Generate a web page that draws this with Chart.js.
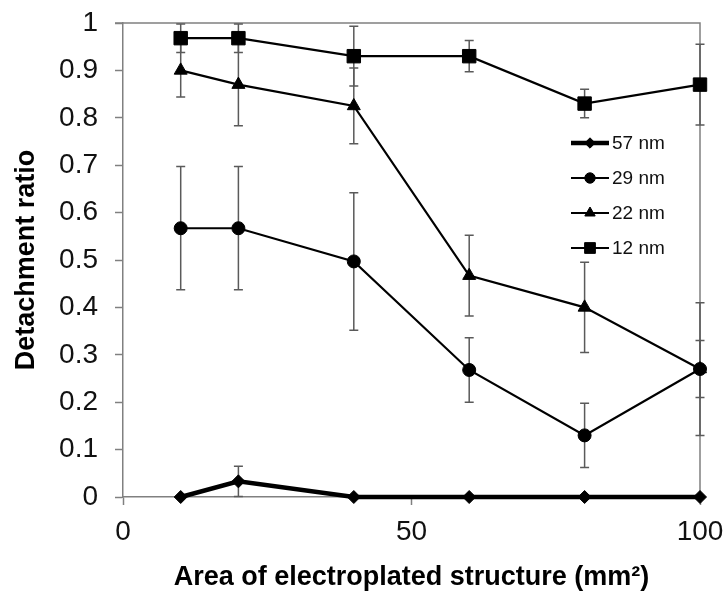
<!DOCTYPE html>
<html lang="en">
<head>
    <meta charset="UTF-8">
    <title>Detachment ratio vs area</title>
    <script src="https://cdn.jsdelivr.net/npm/chart.js"></script>
    <style>
        html, body { margin: 0; padding: 0; background: #fff; }
        #wrap { width: 725px; height: 591px; }
    </style>
</head>
<body>
<div id="wrap">
    <canvas id="detachChart" width="725" height="591"></canvas>
</div>

<script>
    // data
    const areas = [10, 20, 40, 60, 80, 100];
    const seriesNames = ['57 nm', '29 nm', '22 nm', '12 nm'];

    const ratio57 = [0, 0.033, 0, 0, 0, 0];
    const ratio29 = [0.567, 0.567, 0.497, 0.268, 0.13, 0.27];
    const ratio22 = [0.90, 0.87, 0.825, 0.467, 0.40, 0.27];
    const ratio12 = [0.968, 0.968, 0.93, 0.93, 0.83, 0.87];

    const err57 = [0, 0.032, 0, 0, 0, 0];
    const err29 = [0.13, 0.13, 0.145, 0.068, 0.068, 0.14];
    const err22 = [0.056, 0.087, 0.08, 0.085, 0.095, 0.06];
    const err12 = [0.03, 0.03, 0.063, 0.033, 0.03, 0.085];

    const xTicks = [0, 50, 100];

    const FONT = 'Liberation Sans, Arial, Helvetica, sans-serif';
    const AXIS_GRAY = '#808080';

    function points(values) {
        return areas.map((a, i) => ({x: a, y: values[i]}));
    }

    function series(label, values, errors, style, radius, lineWidth) {
        return {
            label: label,
            data: points(values),
            errors: errors,
            borderColor: '#000',
            backgroundColor: '#000',
            borderWidth: lineWidth,
            pointStyle: style,
            pointRadius: radius,
            pointHoverRadius: radius,
            pointBorderWidth: 1,
            pointBackgroundColor: '#000',
            pointBorderColor: '#000',
            tension: 0,
            clip: false
        };
    }

    // error bars, drawn under the lines and markers
    const errorBars = {
        id: 'errorBars',
        beforeDatasetsDraw(chart) {
            const ctx = chart.ctx;
            const xs = chart.scales.x;
            const ys = chart.scales.y;
            ctx.save();
            ctx.strokeStyle = '#5a5a5a';
            ctx.lineWidth = 1.5;
            chart.data.datasets.forEach(ds => {
                ds.data.forEach((p, i) => {
                    const e = ds.errors[i];
                    if (!e) return;
                    const px = xs.getPixelForValue(p.x);
                    const top = ys.getPixelForValue(p.y + e);
                    const bot = ys.getPixelForValue(p.y - e);
                    ctx.beginPath();
                    ctx.moveTo(px, top);
                    ctx.lineTo(px, bot);
                    ctx.moveTo(px - 4.5, top);
                    ctx.lineTo(px + 4.5, top);
                    ctx.moveTo(px - 4.5, bot);
                    ctx.lineTo(px + 4.5, bot);
                    ctx.stroke();
                });
            });
            ctx.restore();
        }
    };

    // top and right edges of the plot box
    const plotFrame = {
        id: 'plotFrame',
        beforeDatasetsDraw(chart) {
            const {ctx, chartArea} = chart;
            ctx.save();
            ctx.strokeStyle = AXIS_GRAY;
            ctx.lineWidth = 1.5;
            ctx.beginPath();
            ctx.moveTo(chartArea.left - 8, chartArea.top);
            ctx.lineTo(chartArea.right, chartArea.top);
            ctx.lineTo(chartArea.right, chartArea.bottom);
            ctx.stroke();
            ctx.restore();
        }
    };

    // legend sits inside the plot, on the right
    const insideLegend = {
        id: 'insideLegend',
        afterDatasetsDraw(chart) {
            const {ctx, chartArea} = chart;
            const x0 = chartArea.left + 448;
            const y0 = chartArea.top + 120;
            const rowGap = 35;
            ctx.save();
            chart.data.datasets.forEach((ds, i) => {
                const y = y0 + i * rowGap;
                ctx.strokeStyle = '#000';
                ctx.lineWidth = ds.borderWidth;
                ctx.beginPath();
                ctx.moveTo(x0, y);
                ctx.lineTo(x0 + 38, y);
                ctx.stroke();
                ctx.fillStyle = '#000';
                ctx.lineWidth = 1;
                Chart.helpers.drawPoint(ctx, {
                    pointStyle: ds.pointStyle,
                    radius: ds.pointRadius * 0.8,
                    borderWidth: 1
                }, x0 + 19, y);
                ctx.fillStyle = '#111';
                ctx.font = '19px ' + FONT;
                ctx.textBaseline = 'middle';
                ctx.textAlign = 'left';
                ctx.fillText(ds.label, x0 + 41, y + 1);
            });
            ctx.restore();
        }
    };

    const ctx = document.getElementById('detachChart').getContext('2d');

    const chart = new Chart(ctx, {
        type: 'line',
        data: {
            datasets: [
                series(seriesNames[0], ratio57, err57, 'rectRot', 6.5, 4.5),
                series(seriesNames[1], ratio29, err29, 'circle', 6.5, 2.2),
                series(seriesNames[2], ratio22, err22, 'triangle', 7.5, 2.2),
                series(seriesNames[3], ratio12, err12, 'rect', 9.5, 2.2)
            ]
        },
        options: {
            responsive: false,
            animation: false,
            devicePixelRatio: 1,
            layout: {
                padding: {top: 23, right: 25, left: 0, bottom: 0}
            },
            plugins: {
                legend: {display: false},
                tooltip: {enabled: false}
            },
            scales: {
                x: {
                    type: 'linear',
                    min: 0,
                    max: 100,
                    afterBuildTicks: scale => {
                        scale.ticks = xTicks.map(v => ({value: v}));
                    },
                    afterFit: scale => {
                        scale.height = 94;
                        scale.paddingLeft = 0;
                        scale.paddingRight = 0;
                    },
                    ticks: {
                        color: '#111',
                        padding: 10,
                        maxRotation: 0,
                        font: {family: FONT, size: 28}
                    },
                    grid: {
                        display: true,
                        drawOnChartArea: false,
                        drawTicks: true,
                        tickLength: 8,
                        color: AXIS_GRAY,
                        tickWidth: 1.5
                    },
                    border: {display: true, color: AXIS_GRAY, width: 1.5},
                    title: {
                        display: true,
                        text: 'Area of electroplated structure (mm²)',
                        color: '#000',
                        padding: {top: 0, bottom: 0},
                        font: {family: FONT, size: 27, weight: 'bold', lineHeight: 1}
                    }
                },
                y: {
                    min: 0,
                    max: 1,
                    afterFit: scale => {
                        scale.width = 123;
                        scale.paddingTop = 0;
                        scale.paddingBottom = 0;
                    },
                    ticks: {
                        stepSize: 0.1,
                        color: '#111',
                        padding: 17,
                        font: {family: FONT, size: 28},
                        callback: v => String(Math.round(v * 10) / 10)
                    },
                    grid: {
                        display: true,
                        drawOnChartArea: false,
                        drawTicks: true,
                        tickLength: 8,
                        color: AXIS_GRAY,
                        tickWidth: 1.5
                    },
                    border: {display: true, color: AXIS_GRAY, width: 1.5},
                    title: {
                        display: true,
                        text: 'Detachment ratio',
                        color: '#000',
                        padding: {top: 13, bottom: 0},
                        font: {family: FONT, size: 27, weight: 'bold', lineHeight: 1}
                    }
                }
            }
        },
        plugins: [plotFrame, errorBars, insideLegend]
    });
</script>
</body>
</html>
